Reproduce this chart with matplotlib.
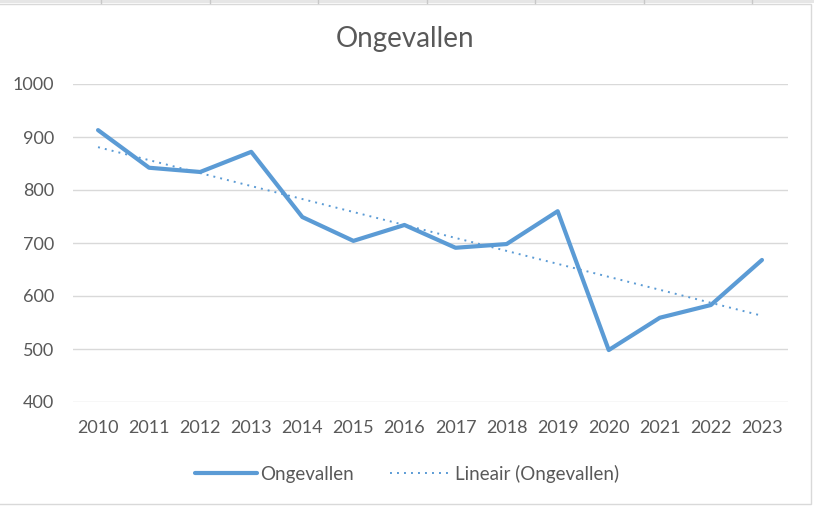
import matplotlib
matplotlib.use("Agg")
import matplotlib.pyplot as plt
import numpy as np
from matplotlib.patches import Rectangle
from matplotlib.lines import Line2D

years = ["2010", "2011", "2012", "2013", "2014", "2015", "2016",
         "2017", "2018", "2019", "2020", "2021", "2022", "2023"]
ongevallen = [913, 842, 834, 872, 749, 704, 734, 691, 698, 760, 498, 559, 583, 668]
yticks = [400, 500, 600, 700, 800, 900, 1000]

blue = "#5B9BD5"
grid = "#D9D9D9"
txt = "#595959"
plt.rcParams['font.family'] = ['Lato', 'DejaVu Sans']

fig = plt.figure(figsize=(8.14, 5.07), dpi=100)
ax = fig.add_axes([72.5/814, 105/507, 715/814, 318/507])

x = np.arange(len(years))
coef = np.polyfit(x, ongevallen, 1)
trend = np.polyval(coef, x)

ax.plot(x, ongevallen, color=blue, lw=3.0, solid_capstyle='round',
        solid_joinstyle='round', label="Ongevallen", zorder=3)
ax.plot(x, trend, color=blue, lw=1.4, linestyle=(0, (1, 2.6)),
        label="Lineair (Ongevallen)", zorder=2)

ax.set_xlim(-0.5, len(years) - 0.5)
ax.set_ylim(400, 1000)
ax.set_yticks(yticks)
ax.set_xticks(x)
ax.set_xticklabels(years)
ax.tick_params(axis='both', length=0, labelsize=13, colors=txt)
ax.tick_params(axis='x', pad=13)
ax.tick_params(axis='y', pad=13)
for s in ax.spines.values():
    s.set_visible(False)
ax.yaxis.grid(True, color=grid, lw=1)
ax.set_axisbelow(True)

fig.text(405/814, 1 - 39/507, "Ongevallen", ha='center', va='center',
         fontsize=20, color=txt)

leg = fig.legend(handles=[
    Line2D([], [], color=blue, lw=3.0, solid_capstyle='round'),
    Line2D([], [], color=blue, lw=1.4, linestyle=(0, (1, 2.6)))],
    labels=["Ongevallen", "Lineair (Ongevallen)"],
    loc='center', bbox_to_anchor=(407/814, 1 - 474/507), ncol=2,
    frameon=False, fontsize=13.5, handlelength=3.3, handletextpad=0.2,
    columnspacing=1.9, labelcolor=txt)

# chart border and spreadsheet strip
fig.patches.append(Rectangle((-0.01, 3/507), 811/814 + 0.01, 500/507,
                             transform=fig.transFigure, fill=False,
                             edgecolor=grid, lw=1))
fig.patches.append(Rectangle((0, 1 - 3/507), 1, 3/507, transform=fig.transFigure,
                             facecolor="#E6E6E6", edgecolor='none'))
for xp in [101, 210, 318, 427, 535, 644, 752]:
    fig.lines.append(Line2D([xp/814, xp/814], [1 - 3/507, 1], transform=fig.transFigure,
                            color="#C8C8C8", lw=1))

fig.savefig("out.png", dpi=100)
